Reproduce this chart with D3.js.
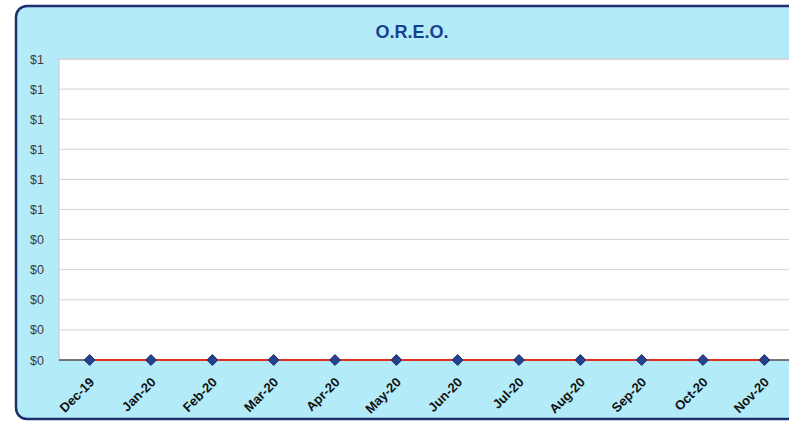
<!DOCTYPE html>
<html>
<head>
<meta charset="utf-8">
<script src="https://cdn.jsdelivr.net/npm/d3@7"></script>
<style>
  html, body { margin: 0; padding: 0; background: #ffffff; }
  svg { display: block; }
</style>
</head>
<body>
<svg id="chart" width="789" height="422"></svg>
<script>
// Monthly O.R.E.O. balances
const months = ["Dec-19", "Jan-20", "Feb-20", "Mar-20", "Apr-20", "May-20",
                "Jun-20", "Jul-20", "Aug-20", "Sep-20", "Oct-20", "Nov-20"];
const oreoValues = [0, 0, 0, 0, 0, 0, 0, 0, 0, 0, 0, 0];
const yTicks = [0, 0.1, 0.2, 0.3, 0.4, 0.5, 0.6, 0.7, 0.8, 0.9, 1.0];
const chartTitle = "O.R.E.O.";

const svg = d3.select("#chart");
const plot = { left: 59, top: 59, right: 795, bottom: 360 };
const font = "Arial, 'Liberation Sans', sans-serif";

// Chart frame
svg.append("rect")
  .attr("x", 16).attr("y", 6)
  .attr("width", 800).attr("height", 413)
  .attr("rx", 11).attr("ry", 11)
  .attr("fill", "#b4ebf8")
  .attr("stroke", "#1c2f6e")
  .attr("stroke-width", 2.5);

// Title
svg.append("text")
  .attr("x", 412).attr("y", 38)
  .attr("text-anchor", "middle")
  .attr("font-family", font)
  .attr("font-weight", "bold")
  .attr("font-size", 18)
  .attr("fill", "#1b3f8f")
  .text(chartTitle);

const x = d3.scalePoint()
  .domain(months)
  .range([plot.left, plot.right])
  .padding(0.5);

const y = d3.scaleLinear()
  .domain([0, 1])
  .range([plot.bottom, plot.top]);

// Plot area
svg.append("rect")
  .attr("x", plot.left).attr("y", plot.top)
  .attr("width", plot.right - plot.left)
  .attr("height", plot.bottom - plot.top)
  .attr("fill", "#ffffff")
  .attr("stroke", "#c4c4c4")
  .attr("stroke-width", 1);

// Horizontal gridlines
svg.append("g")
  .selectAll("line")
  .data(yTicks.filter(d => d > 0))
  .join("line")
  .attr("x1", plot.left).attr("x2", plot.right)
  .attr("y1", d => y(d)).attr("y2", d => y(d))
  .attr("stroke", "#d2d2d2")
  .attr("stroke-width", 1);

// Y axis labels
const yAxis = d3.axisLeft(y)
  .tickValues(yTicks)
  .tickSize(0)
  .tickPadding(15)
  .tickFormat(d => "$" + Math.round(d + 1e-9).toFixed(0));

svg.append("g")
  .attr("transform", `translate(${plot.left},0)`)
  .call(yAxis)
  .call(g => g.select(".domain").remove())
  .selectAll("text")
  .attr("font-family", font)
  .attr("font-size", 12.5)
  .attr("fill", "#3c3c3c");

// X axis
const xAxis = d3.axisBottom(x).tickSize(0).tickPadding(0);
svg.append("g")
  .attr("transform", `translate(0,${plot.bottom})`)
  .call(xAxis)
  .call(g => g.select(".domain")
    .attr("d", `M${plot.left},0H${plot.right}`)
    .attr("stroke", "#555555")
    .attr("stroke-width", 1.5))
  .selectAll("text")
  .attr("font-family", font)
  .attr("font-weight", "bold")
  .attr("font-size", 13)
  .attr("fill", "#111111")
  .attr("text-anchor", "end")
  .attr("dy", null)
  .attr("y", 0)
  .attr("transform", "translate(5,23) rotate(-45)");

// Series line
const line = d3.line()
  .x((d, i) => x(months[i]))
  .y(d => y(d));

svg.append("path")
  .datum(oreoValues)
  .attr("d", line)
  .attr("fill", "none")
  .attr("stroke", "#e2301f")
  .attr("stroke-width", 2);

// Diamond markers
const diamond = d3.symbol().type(d3.symbolDiamond2).size(75);
svg.append("g")
  .selectAll("path")
  .data(oreoValues)
  .join("path")
  .attr("d", diamond)
  .attr("transform", (d, i) => `translate(${x(months[i])},${y(d)})`)
  .attr("fill", "#25408f")
  .attr("stroke", "#1a2a66")
  .attr("stroke-width", 1);
</script>
</body>
</html>
